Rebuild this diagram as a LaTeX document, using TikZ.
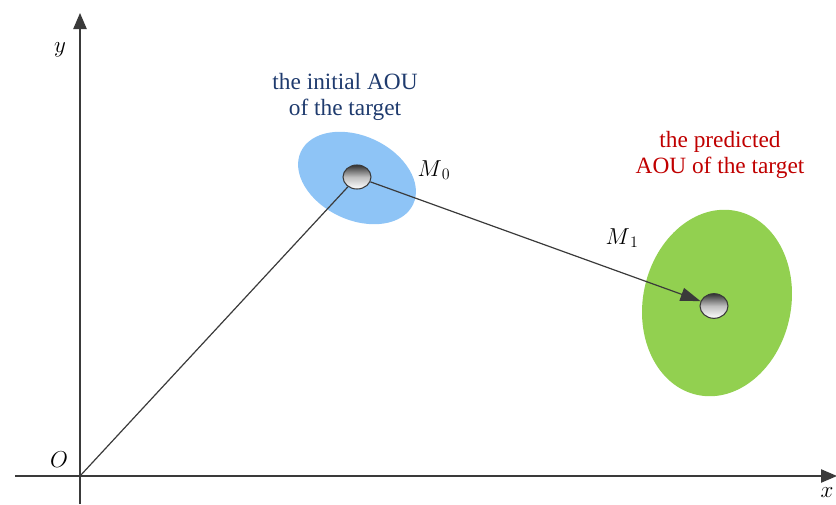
\documentclass[tikz,border=0pt]{standalone}
\usepackage{fontspec}
\setmainfont{Liberation Serif}
\usetikzlibrary{arrows.meta,shapes.geometric}
\definecolor{aoublue}{HTML}{8EC4F6}
\definecolor{aougreen}{HTML}{92D050}
\definecolor{txtblue}{HTML}{1F3B6E}
\definecolor{txtred}{HTML}{C00000}
\definecolor{linegray}{HTML}{3A3A3A}
\tikzset{
  ball/.style={ellipse, draw=linegray, line width=0.8pt, top color=black!80, bottom color=white, middle color=black!25, inner sep=0pt},
  axis/.style={draw=linegray, line width=1pt, -{Triangle[length=12pt,width=10pt]}},
  conn/.style={draw=linegray, line width=0.9pt},
  lbl/.style={font=\fontsize{17.5}{20}\selectfont, align=center},
  mlab/.style={font=\fontsize{18}{20}\selectfont}
}
\begin{document}
\begin{tikzpicture}[x=0.75pt,y=-0.75pt]
\useasboundingbox (0,0) rectangle (836,504);
% areas of uncertainty
\fill[aoublue, rotate around={-25:(357,178)}] (357,178) ellipse [x radius=62, y radius=42];
\fill[aougreen, rotate around={-12:(717,303)}] (717,303) ellipse [x radius=74, y radius=94];
% axes
\coordinate (O) at (80,476);
\coordinate (xs) at (15,476);
\coordinate (xe) at (837,476);
\coordinate (ys) at (80,504);
\coordinate (ye) at (80,13);
\draw[axis] (xs) -- (xe);
\draw[axis] (ys) -- (ye);
\node[mlab] (ylab) at (60,50) {$y$};
\node[mlab] (olab) at (59,460) {$O$};
\node[mlab] (xlab) at (827,493) {$x$};
% targets
\node[ball, minimum width=21pt, minimum height=18pt] (m0) at (357,177) {};
\node[ball, minimum width=21pt, minimum height=18.5pt] (m1) at (714,306) {};
\draw[conn] (O) -- (m0);
\draw[conn, -{Triangle[length=15pt,width=10pt]}] (m0) -- (m1);
\node[mlab] (m0lab) at (434,170) {$M_{\,0}$};
\node[mlab] (m1lab) at (622,238) {$M_{\,1}$};
% texts
\node[lbl, text=txtblue] (initial) at (345,97) {the initial AOU\\of the target};
\node[lbl, text=txtred] (predicted) at (720,155) {the predicted\\AOU of the target};
\end{tikzpicture}
\end{document}
